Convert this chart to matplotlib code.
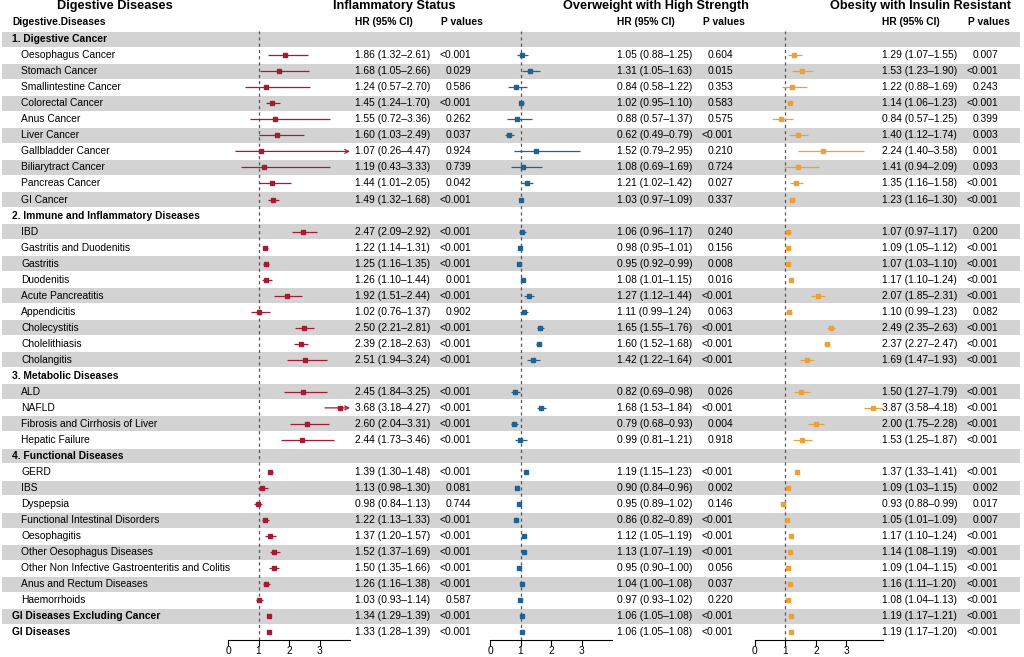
import numpy as np
import matplotlib
matplotlib.use('Agg')
import matplotlib.pyplot as plt

plt.rcParams['font.family'] = ['Liberation Sans', 'DejaVu Sans']

# row labels (section rows are bold + not indented)
labels = ['1. Digestive Cancer', 'Oesophagus Cancer', 'Stomach Cancer', 'Smallintestine Cancer',
          'Colorectal Cancer', 'Anus Cancer', 'Liver Cancer', 'Gallbladder Cancer',
          'Biliarytract Cancer', 'Pancreas Cancer', 'GI Cancer',
          '2. Immune and Inflammatory Diseases', 'IBD', 'Gastritis and Duodenitis', 'Gastritis',
          'Duodenitis', 'Acute Pancreatitis', 'Appendicitis', 'Cholecystitis', 'Cholelithiasis',
          'Cholangitis',
          '3. Metabolic Diseases', 'ALD', 'NAFLD', 'Fibrosis and Cirrhosis of Liver', 'Hepatic Failure',
          '4. Functional Diseases', 'GERD', 'IBS', 'Dyspepsia', 'Functional Intestinal Disorders',
          'Oesophagitis', 'Other Oesophagus Diseases',
          'Other Non Infective Gastroenteritis and Colitis', 'Anus and Rectum Diseases',
          'Haemorrhoids', 'GI Diseases Excluding Cancer', 'GI Diseases']
section_rows = [0, 11, 21, 26]
bold_rows = [0, 11, 21, 26, 36, 37]
data_rows = [i for i in range(len(labels)) if i not in section_rows]

# Inflammatory Status
inf_hr = [1.86, 1.68, 1.24, 1.45, 1.55, 1.60, 1.07, 1.19, 1.44, 1.49,
          2.47, 1.22, 1.25, 1.26, 1.92, 1.02, 2.50, 2.39, 2.51,
          2.45, 3.68, 2.60, 2.44,
          1.39, 1.13, 0.98, 1.22, 1.37, 1.52, 1.50, 1.26, 1.03, 1.34, 1.33]
inf_lo = [1.32, 1.05, 0.57, 1.24, 0.72, 1.03, 0.26, 0.43, 1.01, 1.32,
          2.09, 1.14, 1.16, 1.10, 1.51, 0.76, 2.21, 2.18, 1.94,
          1.84, 3.18, 2.04, 1.73,
          1.30, 0.98, 0.84, 1.13, 1.20, 1.37, 1.35, 1.16, 0.93, 1.29, 1.28]
inf_hi = [2.61, 2.66, 2.70, 1.70, 3.36, 2.49, 4.47, 3.33, 2.05, 1.68,
          2.92, 1.31, 1.35, 1.44, 2.44, 1.37, 2.81, 2.63, 3.24,
          3.25, 4.27, 3.31, 3.46,
          1.48, 1.30, 1.13, 1.33, 1.57, 1.69, 1.66, 1.38, 1.14, 1.39, 1.39]
inf_p = ['<0.001', '0.029', '0.586', '<0.001', '0.262', '0.037', '0.924', '0.739', '0.042', '<0.001',
         '<0.001', '<0.001', '<0.001', '0.001', '<0.001', '0.902', '<0.001', '<0.001', '<0.001',
         '<0.001', '<0.001', '<0.001', '<0.001',
         '<0.001', '0.081', '0.744', '<0.001', '<0.001', '<0.001', '<0.001', '<0.001', '0.587',
         '<0.001', '<0.001']

# Overweight with High Strength
ow_hr = [1.05, 1.31, 0.84, 1.02, 0.88, 0.62, 1.52, 1.08, 1.21, 1.03,
         1.06, 0.98, 0.95, 1.08, 1.27, 1.11, 1.65, 1.60, 1.42,
         0.82, 1.68, 0.79, 0.99,
         1.19, 0.90, 0.95, 0.86, 1.12, 1.13, 0.95, 1.04, 0.97, 1.06, 1.06]
ow_lo = [0.88, 1.05, 0.58, 0.95, 0.57, 0.49, 0.79, 0.69, 1.02, 0.97,
         0.96, 0.95, 0.92, 1.01, 1.12, 0.99, 1.55, 1.52, 1.22,
         0.69, 1.53, 0.68, 0.81,
         1.15, 0.84, 0.89, 0.82, 1.05, 1.07, 0.90, 1.00, 0.93, 1.05, 1.05]
ow_hi = [1.25, 1.63, 1.22, 1.10, 1.37, 0.79, 2.95, 1.69, 1.42, 1.09,
         1.17, 1.01, 0.99, 1.15, 1.44, 1.24, 1.76, 1.68, 1.64,
         0.98, 1.84, 0.93, 1.21,
         1.23, 0.96, 1.02, 0.89, 1.19, 1.19, 1.00, 1.08, 1.02, 1.08, 1.08]
ow_p = ['0.604', '0.015', '0.353', '0.583', '0.575', '<0.001', '0.210', '0.724', '0.027', '0.337',
        '0.240', '0.156', '0.008', '0.016', '<0.001', '0.063', '<0.001', '<0.001', '<0.001',
        '0.026', '<0.001', '0.004', '0.918',
        '<0.001', '0.002', '0.146', '<0.001', '<0.001', '<0.001', '0.056', '0.037', '0.220',
        '<0.001', '<0.001']

# Obesity with Insulin Resistant
ob_hr = [1.29, 1.53, 1.22, 1.14, 0.84, 1.40, 2.24, 1.41, 1.35, 1.23,
         1.07, 1.09, 1.07, 1.17, 2.07, 1.10, 2.49, 2.37, 1.69,
         1.50, 3.87, 2.00, 1.53,
         1.37, 1.09, 0.93, 1.05, 1.17, 1.14, 1.09, 1.16, 1.08, 1.19, 1.19]
ob_lo = [1.07, 1.23, 0.88, 1.06, 0.57, 1.12, 1.40, 0.94, 1.16, 1.16,
         0.97, 1.05, 1.03, 1.10, 1.85, 0.99, 2.35, 2.27, 1.47,
         1.27, 3.58, 1.75, 1.25,
         1.33, 1.03, 0.88, 1.01, 1.10, 1.08, 1.04, 1.11, 1.04, 1.17, 1.17]
ob_hi = [1.55, 1.90, 1.69, 1.23, 1.25, 1.74, 3.58, 2.09, 1.58, 1.30,
         1.17, 1.12, 1.10, 1.24, 2.31, 1.23, 2.63, 2.47, 1.93,
         1.79, 4.18, 2.28, 1.87,
         1.41, 1.15, 0.99, 1.09, 1.24, 1.19, 1.15, 1.20, 1.13, 1.21, 1.20]
ob_p = ['0.007', '<0.001', '0.243', '<0.001', '0.399', '0.003', '0.001', '0.093', '<0.001', '<0.001',
        '0.200', '<0.001', '<0.001', '<0.001', '<0.001', '0.082', '<0.001', '<0.001', '<0.001',
        '<0.001', '<0.001', '<0.001', '<0.001',
        '<0.001', '0.002', '0.017', '0.007', '<0.001', '<0.001', '<0.001', '<0.001', '<0.001',
        '<0.001', '<0.001']

titles = ['Inflammatory Status', 'Overweight with High Strength', 'Obesity with Insulin Resistant']
colors = ['#a31b35', '#22628f', '#e9a23b']
ticks = [0, 1, 2, 3]

W, H = 1024, 657
fig = plt.figure(figsize=(W / 100, H / 100), dpi=100, facecolor='w')

nrow = len(labels)
y_top, y_bot = 31.2, 640.3          # pixel extent of the table body
bottom = (H - y_bot) / H
height = (y_bot - y_top) / H
fs = 7.4

# background table axis (x in pixels, y in rows)
bg = fig.add_axes([0, bottom, 1, height])
bg.set_xlim(0, W)
bg.set_ylim(nrow - 0.5, -0.5)
bg.axis('off')
for i in range(0, nrow, 2):
    bg.barh(i, 1018, left=2, height=0.93, color='#d3d3d3', lw=0)

for i, lab in enumerate(labels):
    if i in bold_rows:
        bg.text(12, i, lab, fontsize=fs, fontweight='bold', va='center', ha='left')
    else:
        bg.text(21, i, lab, fontsize=fs, va='center', ha='left')

bg.text(115, -2.05, 'Digestive Diseases', fontsize=9.2, fontweight='bold', ha='center', va='center', clip_on=False)
bg.text(12, -1.05, 'Digestive.Diseases', fontsize=fs, fontweight='bold', ha='left', va='center', clip_on=False)

panels = [
    dict(x0=228, x1=350, xmax=4.0, hr=inf_hr, lo=inf_lo, hi=inf_hi, p=inf_p, tx=355, px=471, ph=441, tc=394),
    dict(x0=490, x1=612, xmax=4.0, hr=ow_hr, lo=ow_lo, hi=ow_hi, p=ow_p, tx=617, px=733, ph=703, tc=656),
    dict(x0=755, x1=883, xmax=4.2, hr=ob_hr, lo=ob_lo, hi=ob_hi, p=ob_p, tx=882, px=998, ph=968, tc=921),
]

for k, pn in enumerate(panels):
    c = colors[k]
    bg.text(pn['tc'], -2.05, titles[k], fontsize=9.2, fontweight='bold', ha='center', va='center', clip_on=False)
    bg.text(pn['tx'], -1.05, 'HR (95% CI)', fontsize=fs, fontweight='bold', ha='left', va='center', clip_on=False)
    bg.text(pn['ph'], -1.05, 'P values', fontsize=fs, fontweight='bold', ha='left', va='center', clip_on=False)
    for j, r in enumerate(data_rows):
        bg.text(pn['tx'], r, '{:.2f} ({:.2f}\u2013{:.2f})'.format(pn['hr'][j], pn['lo'][j], pn['hi'][j]),
                fontsize=fs, ha='left', va='center')
        bg.text(pn['px'], r, pn['p'][j], fontsize=fs, ha='right', va='center')

    ax = fig.add_axes([pn['x0'] / W, bottom, (pn['x1'] - pn['x0']) / W, height])
    ax.set_facecolor('none')
    ax.set_xlim(0, pn['xmax'])
    ax.set_ylim(nrow - 0.5, -0.5)
    for s in ['left', 'right', 'top']:
        ax.spines[s].set_visible(False)
    ax.spines['bottom'].set_linewidth(0.8)
    ax.set_yticks([])
    ax.set_xticks(ticks)
    ax.tick_params(axis='x', length=4, width=0.8, pad=0.3, labelsize=fs)
    ax.axvline(1, color='#555555', lw=0.9, ls=(0, (2.5, 2.5)), zorder=1)

    for j, r in enumerate(data_rows):
        lo, hi, hr = pn['lo'][j], pn['hi'][j], pn['hr'][j]
        if hi > pn['xmax']:
            ax.annotate('', xy=(pn['xmax'], r), xytext=(lo, r),
                        arrowprops=dict(arrowstyle='->', color=c, lw=0.9, shrinkA=0, shrinkB=0,
                                        mutation_scale=7), annotation_clip=False, zorder=2)
        else:
            ax.hlines(r, lo, hi, color=c, lw=0.9, zorder=2)
        ax.plot(hr, r, 's', color=c, ms=3.0, mec=c, zorder=3)

fig.savefig('out.png', dpi=100, facecolor='w')
